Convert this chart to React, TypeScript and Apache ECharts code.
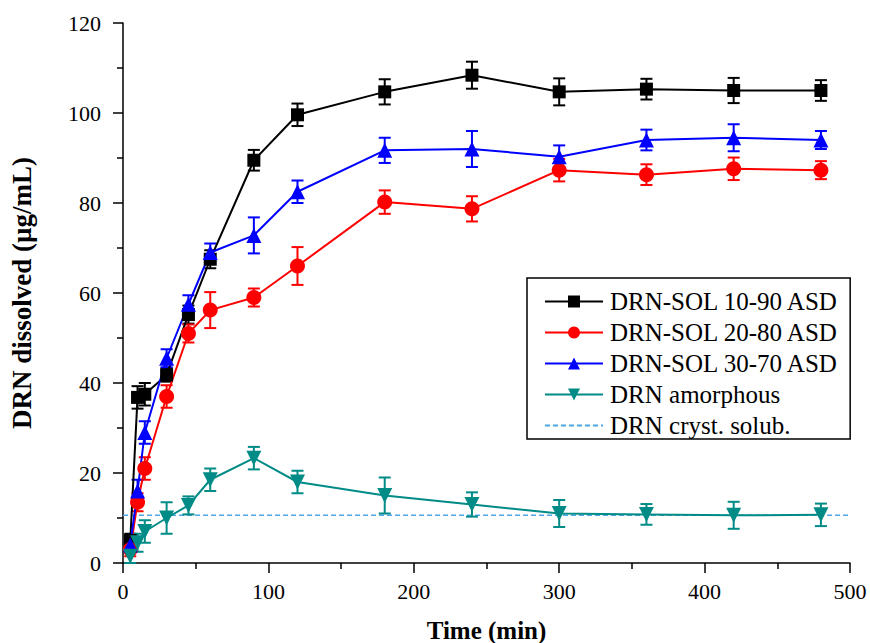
import React, { useEffect, useRef } from "react";
import * as echarts from "echarts";

const times = [5, 10, 15, 30, 45, 60, 90, 120, 180, 240, 300, 360, 420, 480];

const sol1090 = [5, 36.8, 37.5, 41.8, 55.2, 67.5, 89.5, 99.6, 104.7, 108.4, 104.7, 105.3, 105.0, 105.0];
const sol1090Err = [1.5, 2.5, 2.5, 1.5, 2.0, 2.0, 2.3, 2.5, 2.8, 3.0, 3.0, 2.3, 2.8, 2.3];

const sol2080 = [3, 13.5, 21, 37, 51, 56.2, 59, 66, 80.2, 78.7, 87.3, 86.3, 87.6, 87.3];
const sol2080Err = [1.5, 2.0, 2.5, 2.5, 2.0, 4.0, 2.0, 4.2, 2.6, 2.8, 2.5, 2.3, 2.5, 2.0];

const sol3070 = [4, 16, 29, 45.5, 57.5, 69, 72.8, 82.5, 91.7, 92, 90.3, 94, 94.5, 94];
const sol3070Err = [1.5, 2.5, 2.5, 2.0, 2.0, 2.0, 4.0, 2.5, 2.8, 4.0, 2.5, 2.3, 3.0, 2.0];

const amorphous = [1.5, 4.5, 7, 10, 12.8, 18.5, 23.3, 18, 15, 13, 11, 10.8, 10.6, 10.7];
const amorphousErr = [1.5, 2.0, 2.5, 3.5, 2.0, 2.5, 2.5, 2.5, 4.0, 2.7, 3.0, 2.3, 3.0, 2.5];

const crystSolub = 10.6;
const crystX = [0, 500];

const names = [
  "DRN-SOL 10-90 ASD",
  "DRN-SOL 20-80 ASD",
  "DRN-SOL 30-70 ASD",
  "DRN amorphous",
  "DRN cryst. solub.",
];

const FONT = "'Liberation Serif', 'Times New Roman', serif";
const CRYST_COLOR = "#4ea6e6";

function pts(vals: number[]) {
  return times.map((t, i) => [t, vals[i]]);
}
function errPts(vals: number[], errs: number[]) {
  return times.map((t, i) => [t, vals[i], errs[i]]);
}

function errSeries(vals: number[], errs: number[], color: string) {
  return {
    type: "custom",
    silent: true,
    z: 3,
    data: errPts(vals, errs),
    renderItem: (params: any, api: any) => {
      const x = api.value(0);
      const y = api.value(1);
      const e = api.value(2);
      const top = api.coord([x, y + e]);
      const bot = api.coord([x, y - e]);
      const w = 6;
      const style = { stroke: color, lineWidth: 2 };
      return {
        type: "group",
        children: [
          { type: "line", shape: { x1: top[0], y1: top[1], x2: bot[0], y2: bot[1] }, style },
          { type: "line", shape: { x1: top[0] - w, y1: top[1], x2: top[0] + w, y2: top[1] }, style },
          { type: "line", shape: { x1: bot[0] - w, y1: bot[1], x2: bot[0] + w, y2: bot[1] }, style },
        ],
      };
    },
  };
}

function lineSeries(name: string, vals: number[], color: string, symbol: string, size: number, rotate = 0) {
  return {
    name,
    type: "line",
    data: pts(vals),
    symbol,
    symbolSize: size,
    symbolRotate: rotate,
    showAllSymbol: true,
    z: 4,
    itemStyle: { color },
    lineStyle: { color, width: 2 },
  };
}

export default function App() {
  const ref = useRef<HTMLDivElement>(null);
  useEffect(() => {
    if (!ref.current) return;
    const chart = echarts.init(ref.current, null, { renderer: "svg" });
    const axisCommon = {
      axisLine: { show: true, lineStyle: { color: "#000", width: 1.5 } },
      axisTick: { show: true, length: 10, lineStyle: { color: "#000", width: 1.5 } },
      minorTick: { show: true, splitNumber: 2, length: 6, lineStyle: { color: "#000", width: 1.5 } },
      splitLine: { show: false },
    };
    chart.setOption({
      animation: false,
      backgroundColor: "#fff",
      grid: { left: 123, right: 20, top: 23, bottom: 80, containLabel: false, outerBoundsMode: "none" },
      xAxis: {
        type: "value",
        min: 0,
        max: 500,
        interval: 100,
        name: "Time (min)",
        nameLocation: "middle",
        nameGap: 55,
        nameTextStyle: { fontFamily: FONT, fontWeight: "bold", fontSize: 25, color: "#000" },
        axisLabel: { fontFamily: FONT, fontSize: 22, color: "#000", margin: 17 },
        ...axisCommon,
      },
      yAxis: {
        type: "value",
        min: 0,
        max: 120,
        interval: 20,
        name: "DRN dissolved (µg/mL)",
        nameLocation: "middle",
        nameGap: 88,
        nameTextStyle: { fontFamily: FONT, fontWeight: "bold", fontSize: 27, color: "#000" },
        axisLabel: { fontFamily: FONT, fontSize: 22, color: "#000", margin: 22 },
        ...axisCommon,
      },
      legend: {
        data: names.map((n, i) =>
          i === 4 ? { name: n, itemStyle: { opacity: 0, borderWidth: 0 } } : { name: n }
        ),
        orient: "vertical",
        left: 527,
        top: 278,
        padding: [11, 11, 1, 17],
        itemGap: 6,
        itemWidth: 58,
        itemHeight: 15,
        borderColor: "#000",
        borderWidth: 1.5,
        backgroundColor: "#fff",
        textStyle: { fontFamily: FONT, fontSize: 25, color: "#000", padding: [0, 0, 0, 2] },
      },
      series: [
        {
          name: names[4],
          type: "line",
          data: crystX.map((x) => [x, crystSolub]),
          symbol: "none",
          z: 2,
          itemStyle: { color: CRYST_COLOR, opacity: 0 },
          lineStyle: { color: CRYST_COLOR, width: 1.5, type: [5, 3] },
        },
        errSeries(sol1090, sol1090Err, "#000000"),
        errSeries(sol2080, sol2080Err, "#ff0000"),
        errSeries(sol3070, sol3070Err, "#0000ff"),
        errSeries(amorphous, amorphousErr, "#008b86"),
        lineSeries(names[0], sol1090, "#000000", "rect", 13),
        lineSeries(names[1], sol2080, "#ff0000", "circle", 15),
        lineSeries(names[2], sol3070, "#0000ff", "triangle", 15),
        lineSeries(names[3], amorphous, "#008b86", "triangle", 15, 180),
      ],
    });
    return () => chart.dispose();
  }, []);
  return (
    <div
      ref={ref}
      style={{ position: "absolute", left: 0, top: 0, width: 870, height: 643 }}
    />
  );
}
